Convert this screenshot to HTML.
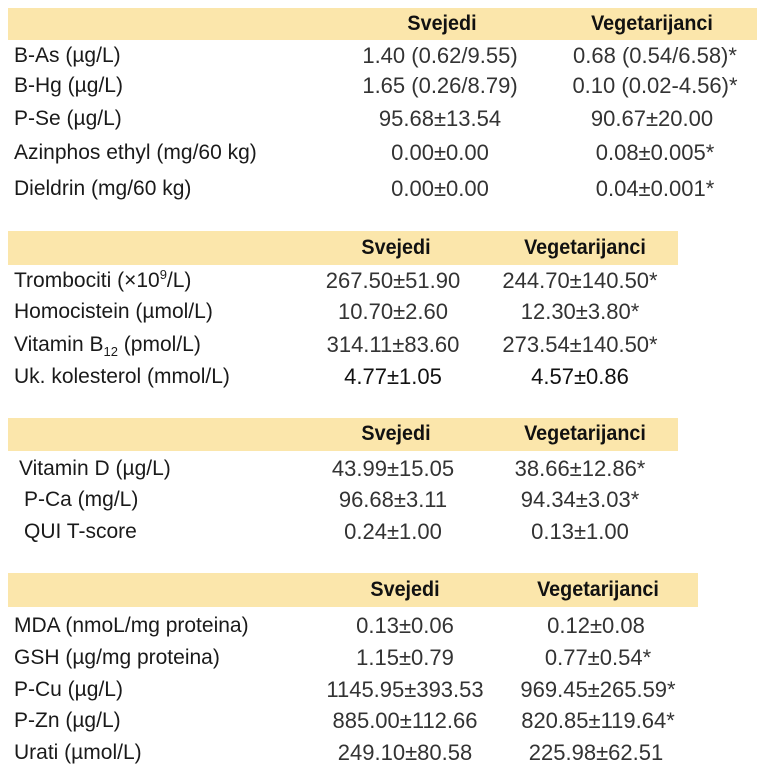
<!DOCTYPE html>
<html><head><meta charset="utf-8"><style>
body{margin:0;width:765px;height:772px;background:#fff;position:relative;overflow:hidden;
font-family:"Liberation Sans",sans-serif;}
.bar{position:absolute;left:8px;background:#fbe6ab;}
.t{position:absolute;font-size:21px;color:#1a1a1a;white-space:nowrap;line-height:24px;transform:scaleX(1);transform-origin:left center;}
.h{position:absolute;font-size:21px;color:#111;font-weight:bold;white-space:nowrap;line-height:24px;transform:translateX(-50%) scaleX(0.94);}
.v{position:absolute;font-size:22px;color:#333;white-space:nowrap;line-height:24px;transform:translateX(-50%) scaleX(1);}
sub,sup{font-size:13px;line-height:0}
</style></head><body>
<div class="bar" style="top:8px;width:749px;height:32px"></div>
<div class="h" style="left:442px;top:12px">Svejedi</div>
<div class="h" style="left:652px;top:12px">Vegetarijanci</div>
<div class="t" style="left:14px;top:44px">B-As (µg/L)</div><div class="v" style="left:440px;top:44px">1.40 (0.62/9.55)</div><div class="v" style="left:655px;top:44px">0.68 (0.54/6.58)*</div>
<div class="t" style="left:14px;top:74px">B-Hg (µg/L)</div><div class="v" style="left:440px;top:74px">1.65 (0.26/8.79)</div><div class="v" style="left:655px;top:74px">0.10 (0.02-4.56)*</div>
<div class="t" style="left:14px;top:107px">P-Se (µg/L)</div><div class="v" style="left:440px;top:107px">95.68±13.54</div><div class="v" style="left:652px;top:107px">90.67±20.00</div>
<div class="t" style="left:14px;top:141px">Azinphos ethyl (mg/60 kg)</div><div class="v" style="left:440px;top:141px">0.00±0.00</div><div class="v" style="left:655px;top:141px">0.08±0.005*</div>
<div class="t" style="left:14px;top:177px">Dieldrin (mg/60 kg)</div><div class="v" style="left:440px;top:177px">0.00±0.00</div><div class="v" style="left:655px;top:177px">0.04±0.001*</div>

<div class="bar" style="top:231px;width:670px;height:34px"></div>
<div class="h" style="left:396px;top:236px">Svejedi</div>
<div class="h" style="left:585px;top:236px">Vegetarijanci</div>
<div class="t" style="left:14px;top:269px">Trombociti (×10<sup>9</sup>/L)</div><div class="v" style="left:393px;top:269px">267.50±51.90</div><div class="v" style="left:580px;top:269px">244.70±140.50*</div>
<div class="t" style="left:14px;top:300px">Homocistein (µmol/L)</div><div class="v" style="left:393px;top:300px">10.70±2.60</div><div class="v" style="left:580px;top:300px">12.30±3.80*</div>
<div class="t" style="left:14px;top:333px">Vitamin B<sub>12</sub> (pmol/L)</div><div class="v" style="left:393px;top:333px">314.11±83.60</div><div class="v" style="left:580px;top:333px">273.54±140.50*</div>
<div class="t" style="left:14px;top:365px">Uk. kolesterol (mmol/L)</div><div class="v" style="left:393px;top:365px;color:#111;">4.77±1.05</div><div class="v" style="left:580px;top:365px;color:#111;">4.57±0.86</div>

<div class="bar" style="top:418px;width:670px;height:33px"></div>
<div class="h" style="left:396px;top:422px">Svejedi</div>
<div class="h" style="left:585px;top:422px">Vegetarijanci</div>
<div class="t" style="left:19px;top:457px">Vitamin D (µg/L)</div><div class="v" style="left:393px;top:457px">43.99±15.05</div><div class="v" style="left:580px;top:457px">38.66±12.86*</div>
<div class="t" style="left:24px;top:488px">P-Ca (mg/L)</div><div class="v" style="left:393px;top:488px">96.68±3.11</div><div class="v" style="left:580px;top:488px">94.34±3.03*</div>
<div class="t" style="left:24px;top:520px">QUI T-score</div><div class="v" style="left:393px;top:520px">0.24±1.00</div><div class="v" style="left:580px;top:520px">0.13±1.00</div>

<div class="bar" style="top:573px;width:690px;height:34px"></div>
<div class="h" style="left:405px;top:578px">Svejedi</div>
<div class="h" style="left:598px;top:578px">Vegetarijanci</div>
<div class="t" style="left:14px;top:614px">MDA (nmoL/mg proteina)</div><div class="v" style="left:405px;top:614px">0.13±0.06</div><div class="v" style="left:596px;top:614px">0.12±0.08</div>
<div class="t" style="left:14px;top:646px">GSH (µg/mg proteina)</div><div class="v" style="left:405px;top:646px">1.15±0.79</div><div class="v" style="left:598px;top:646px">0.77±0.54*</div>
<div class="t" style="left:14px;top:678px">P-Cu (µg/L)</div><div class="v" style="left:405px;top:678px">1145.95±393.53</div><div class="v" style="left:598px;top:678px">969.45±265.59*</div>
<div class="t" style="left:14px;top:709px">P-Zn (µg/L)</div><div class="v" style="left:405px;top:709px">885.00±112.66</div><div class="v" style="left:598px;top:709px">820.85±119.64*</div>
<div class="t" style="left:14px;top:741px">Urati (µmol/L)</div><div class="v" style="left:405px;top:741px">249.10±80.58</div><div class="v" style="left:596px;top:741px">225.98±62.51</div>
</body></html>
